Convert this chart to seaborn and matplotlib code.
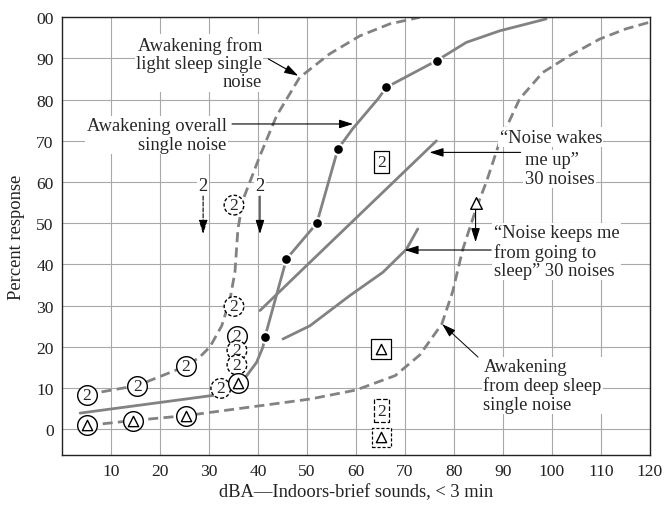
import matplotlib
matplotlib.use("Agg")
import matplotlib.pyplot as plt
import seaborn as sns

# curves (dBA, percent response)
light_x = [5.0, 15.4, 25.3, 28.1, 30.2, 32.6, 34.3, 35.3, 35.9, 37.0, 40.4, 43.8, 48.5, 54.6, 60.8, 66.9, 73.0]
light_y = [8.4, 10.6, 15.3, 17.5, 20.0, 25.1, 31.6, 38.2, 48.6, 55.9, 66.4, 76.1, 85.4, 91.1, 95.5, 98.4, 100.0]

overall_x = [3.7, 30.2, 32.8, 35.9, 37.7, 39.7, 41.0, 41.4, 45.8, 52.0, 56.3, 59.3, 64.5, 66.2, 76.5, 82.5, 89.3, 98.8]
overall_y = [3.9, 8.1, 8.5, 11.2, 13.0, 16.2, 19.9, 22.3, 41.3, 50.0, 68.0, 72.9, 80.2, 83.0, 89.5, 93.9, 96.7, 99.6]

deep_x = [5.2, 14.5, 25.4, 50.6, 60.0, 68.0, 73.0, 77.5, 79.7, 81.8, 84.5, 86.6, 89.3, 93.4, 98.1, 103.6, 109.7, 115.1, 119.9]
deep_y = [0.9, 2.1, 3.3, 7.3, 9.5, 13.0, 18.0, 25.5, 33.3, 43.7, 53.5, 60.0, 69.7, 80.2, 86.6, 90.7, 94.7, 97.2, 98.8]

wakes_x = [40.4, 48.5, 76.4]
wakes_y = [28.8, 38.1, 70.0]

keeps_x = [45.1, 50.6, 58.7, 65.5, 70.3, 72.6]
keeps_y = [21.9, 25.1, 32.4, 38.1, 43.7, 48.6]

# point markers
dots_x = [41.4, 45.8, 52.0, 56.3, 66.2, 76.5]
dots_y = [22.3, 41.3, 50.0, 68.0, 83.0, 89.5]

circ2_x = [5.0, 15.4, 25.3, 35.7]
circ2_y = [8.4, 10.6, 15.3, 22.5]
circ2_dash_x = [35.7, 35.7, 32.4, 35.1, 35.1]
circ2_dash_y = [19.1, 15.6, 9.9, 29.8, 54.4]
circ_tri_x = [5.2, 14.5, 25.4, 35.9]
circ_tri_y = [0.9, 2.1, 3.3, 11.2]

box2 = (65.2, 64.8)
box_tri = (65.2, 19.5)
box2_dash = (65.2, 4.5)
box_tri_dash = (65.2, -2.0)

x_ticks = list(range(10, 121, 10))
y_ticks = list(range(0, 101, 10))
# the top label is printed as "00" in the source figure
y_tick_labels = [str(v) for v in y_ticks[:-1]] + ['00']

sns.set_theme(style="whitegrid")
plt.rcParams['font.family'] = ['Liberation Serif', 'DejaVu Serif']

CURVE = '#828282'
FS = 12.6   # tick labels
TFS = 13.3  # annotations / axis titles

fig = plt.figure(figsize=(6.67, 5.06), dpi=100)
ax = fig.add_axes([62 / 667, 1 - 455.7 / 506, 588 / 667, 437.4 / 506])
ax.set_facecolor('white')

dash = (0, (3.6, 1.9))
sns.lineplot(x=light_x, y=light_y, ax=ax, color=CURVE, linewidth=2.0, linestyle=dash, errorbar=None, zorder=2)
sns.lineplot(x=deep_x, y=deep_y, ax=ax, color=CURVE, linewidth=2.0, linestyle=dash, errorbar=None, zorder=2)
sns.lineplot(x=overall_x, y=overall_y, ax=ax, color=CURVE, linewidth=2.0, errorbar=None, zorder=2)
sns.lineplot(x=wakes_x, y=wakes_y, ax=ax, color=CURVE, linewidth=2.0, errorbar=None, zorder=2)
sns.lineplot(x=keeps_x, y=keeps_y, ax=ax, color=CURVE, linewidth=2.0, errorbar=None, zorder=2)

# filled dots
sns.scatterplot(x=dots_x, y=dots_y, ax=ax, color='black', s=60, edgecolor='white', linewidth=1.5, zorder=4)

# circled 2s
sns.scatterplot(x=circ2_x, y=circ2_y, ax=ax, s=200, facecolor='white', edgecolor='black', linewidth=1.0, zorder=4)
sns.scatterplot(x=circ2_dash_x, y=circ2_dash_y, ax=ax, s=200, facecolor='white', edgecolor='black',
                linewidth=1.0, linestyle=(0, (2.5, 1.5)), zorder=4)
for cx, cy in zip(circ2_x + circ2_dash_x, circ2_y + circ2_dash_y):
    ax.text(cx, cy, '2', ha='center', va='center', fontsize=FS, zorder=5)

# circled triangles
sns.scatterplot(x=circ_tri_x, y=circ_tri_y, ax=ax, s=200, facecolor='white', edgecolor='black', linewidth=1.0, zorder=4)
sns.scatterplot(x=circ_tri_x, y=circ_tri_y, ax=ax, marker='^', s=55, facecolor='white', edgecolor='black',
                linewidth=1.0, zorder=5)

# boxed symbols
ax.text(*box2, '2', ha='center', va='center', fontsize=FS, zorder=5,
        bbox=dict(boxstyle='square,pad=0.18', fc='white', ec='black', lw=0.9))
ax.text(*box2_dash, '2', ha='center', va='center', fontsize=FS, zorder=5,
        bbox=dict(boxstyle='square,pad=0.18', fc='white', ec='black', lw=0.9, ls='--'))
ax.scatter(*box_tri, marker='s', s=190, facecolor='white', edgecolor='black', linewidth=0.9, zorder=4)
ax.scatter(*box_tri, marker='^', s=55, facecolor='white', edgecolor='black', linewidth=1.0, zorder=5)
ax.scatter(*box_tri_dash, marker='s', s=190, facecolor='white', edgecolor='black', linewidth=0.9,
           linestyle=(0, (2.5, 1.5)), zorder=4)
ax.scatter(*box_tri_dash, marker='^', s=55, facecolor='white', edgecolor='black', linewidth=1.0, zorder=5)

# labels with leader arrows
tb = dict(facecolor='white', edgecolor='none', pad=1.0)
arr = dict(arrowstyle='-|>,head_length=0.7,head_width=0.22', color='black', lw=0.8, shrinkA=0, shrinkB=0)

ax.text(40.8, 88.9, 'Awakening from\nlight sleep single\nnoise', ha='right', va='center',
        multialignment='right', fontsize=TFS, bbox=tb, zorder=3, linespacing=1.1)
ax.annotate('', xy=(48.2, 85.8), xytext=(42.1, 89.9), arrowprops=arr, zorder=3)

ax.text(33.6, 71.4, 'Awakening overall\nsingle noise', ha='right', va='center',
        multialignment='right', fontsize=TFS, bbox=tb, zorder=3, linespacing=1.1)
ax.annotate('', xy=(59.4, 74.1), xytext=(34.7, 74.1), arrowprops=arr, zorder=3)

ax.text(89.3, 70.9, '\u201cNoise wakes', ha='left', va='center', fontsize=TFS, bbox=tb, zorder=3)
ax.text(94.4, 63.2, 'me up\u201d\n30 noises', ha='left', va='center', fontsize=TFS, bbox=tb, zorder=3,
        linespacing=1.1)
ax.annotate('', xy=(75.0, 67.2), xytext=(93.6, 67.2), arrowprops=arr, zorder=3)

ax.text(88.1, 43.1, '\u201cNoise keeps me\nfrom going to\nsleep\u201d 30 noises', ha='left', va='center',
        fontsize=TFS, bbox=tb, zorder=3, linespacing=1.1)
ax.annotate('', xy=(69.9, 43.5), xytext=(87.6, 43.5), arrowprops=arr, zorder=3)

ax.text(86.0, 10.6, 'Awakening\nfrom deep sleep\nsingle noise', ha='left', va='center',
        fontsize=TFS, bbox=tb, zorder=3, linespacing=1.1)
ax.annotate('', xy=(77.6, 25.5), xytext=(84.9, 17.5),
            arrowprops=dict(arr, lw=0.7), zorder=3)

# "2" drop arrows
ax.text(28.8, 59.1, '2', ha='center', va='center', fontsize=TFS, bbox=tb, zorder=3)
ax.annotate('', xy=(28.8, 47.4), xytext=(28.8, 56.6), arrowprops=dict(arr, ls='--'), zorder=3)
ax.text(40.4, 59.1, '2', ha='center', va='center', fontsize=TFS, bbox=tb, zorder=3)
ax.annotate('', xy=(40.4, 47.4), xytext=(40.4, 56.6), arrowprops=arr, zorder=3)

# open triangle with down arrow
ax.annotate('', xy=(84.4, 45.4), xytext=(84.4, 54.0), arrowprops=arr, zorder=3)
ax.scatter(84.4, 55.0, marker='^', s=70, facecolor='white', edgecolor='black', linewidth=1.0, zorder=5)

ax.set_xlim(0, 120)
ax.set_ylim(-6.2, 100)
ax.set_xticks(x_ticks)
ax.set_yticks(y_ticks)
ax.set_yticklabels(y_tick_labels)
ax.grid(True, color='#a8a8a8', linewidth=0.8, zorder=0)
ax.set_axisbelow(True)
ax.tick_params(length=0, labelsize=FS, pad=6, colors='#222222')
for sp in ax.spines.values():
    sp.set_color('#222222')
    sp.set_linewidth(1.0)

ax.set_xlabel('dBA\u2014Indoors-brief sounds, < 3 min', fontsize=TFS, color='#222222')
ax.set_ylabel('Percent response', fontsize=TFS, color='#222222')
ax.xaxis.set_label_coords(0.5, -0.064)
ax.yaxis.set_label_coords(-0.063, 0.5)

fig.savefig('out.png', dpi=100)
